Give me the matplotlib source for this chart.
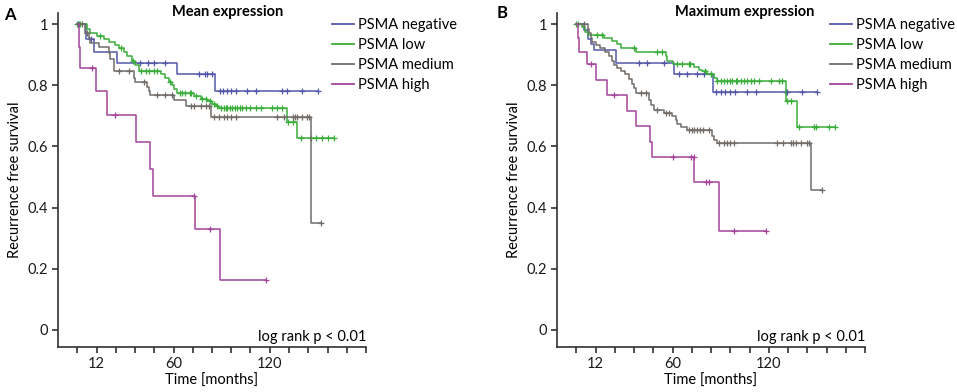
import numpy as np
import matplotlib
matplotlib.use("Agg")
import matplotlib.pyplot as plt
from matplotlib.lines import Line2D

plt.rcParams['font.family'] = ['Lato', 'DejaVu Sans']

# ---- Panel A: mean expression ----
a_neg_t = [0, 5.6, 10.2, 24.8, 61.9, 85.6]
a_neg_s = [1.0, 0.95, 0.91, 0.872, 0.838, 0.781]
a_neg_c = [0.5, 8.5, 39.4, 44.2, 47.7, 55, 75.6, 79.4, 81, 84.2, 88.9, 91, 93.1,
           95.6, 98.75, 105.6, 111.25, 127.9, 130.6, 139.8, 149.8]

a_low_t = [0, 6, 8, 12.3, 16.5, 20, 23.7, 25.8, 29, 31, 34.2, 36, 38.3, 51.9, 55,
           57.1, 59.2, 60.6, 62.3, 72.7, 76.9, 81, 84.2, 86.3, 88.3, 130.5, 136.9]
a_low_s = [1.0, 0.985, 0.97, 0.96, 0.95, 0.94, 0.93, 0.92, 0.91, 0.895, 0.88, 0.865,
           0.847, 0.835, 0.822, 0.81, 0.80, 0.788, 0.774, 0.765, 0.756, 0.748, 0.74,
           0.731, 0.725, 0.678, 0.626]
a_low_c = [0, 1, 2, 14, 27, 35, 40, 43, 45, 48, 50, 58, 64, 65, 67, 70, 71, 74, 78,
           80, 83, 85, 87.3, 89.4, 91.5, 92.5, 93.5, 95.2, 96.7, 98.1, 99.8, 101.5,
           102.9, 105, 108, 111.25, 114.4, 121.7, 124.8, 127.9, 131.5, 134.2, 139.4,
           145.6, 148.75, 152.3, 156.4, 160.2]

a_med_t = [0, 5, 7.1, 8.1, 13.3, 19.6, 20.6, 22.7, 35.2, 36.25, 43.5, 44.6, 45.6,
           60.6, 67.5, 83.5, 146]
a_med_s = [1.0, 0.97, 0.955, 0.938, 0.925, 0.905, 0.885, 0.846, 0.825, 0.811, 0.795,
           0.78, 0.768, 0.752, 0.733, 0.697, 0.349]
a_med_c = [3, 6, 25.8, 32.1, 41.5, 49.8, 55, 59.2, 70.6, 72.7, 76.9, 80, 82.1, 85.2,
           88.3, 91.5, 93.5, 95.6, 98.75, 124.8, 129, 134.2, 135.6, 136.9, 140.4,
           143.1, 144.6, 151.9]

a_high_t = [0, 1.25, 1.9, 11.9, 18.5, 36.9, 45.4, 47.3, 73.1, 88.75]
a_high_s = [1.0, 0.926, 0.857, 0.78, 0.703, 0.613, 0.525, 0.438, 0.329, 0.164]
a_high_c = [9.2, 23.75, 72.8, 82.6, 117.5]

# ---- Panel B: maximum expression ----
b_neg_t = [0, 4.7, 7.2, 9, 10.9, 24.5, 60.8, 85.4]
b_neg_s = [1.0, 0.98, 0.952, 0.935, 0.915, 0.872, 0.838, 0.779]
b_neg_c = [39, 44.2, 54.6, 64, 69.2, 75.4, 79.6, 83.8, 86.9, 90, 92.7, 95.8, 98.9,
           106.7, 111.9, 130.6, 131.6, 141, 149.9]

b_low_t = [0, 3.7, 5.7, 7.2, 17.6, 22.4, 25.5, 27.6, 37, 55.7, 56.7, 60.5, 73.4,
           76.5, 78.6, 81.7, 85.8, 87.9, 130.6, 137.5]
b_low_s = [1.0, 0.99, 0.975, 0.964, 0.955, 0.945, 0.935, 0.923, 0.91, 0.895, 0.88,
           0.869, 0.86, 0.85, 0.845, 0.835, 0.822, 0.815, 0.749, 0.664]
b_low_c = [0, 1, 13, 16.1, 35.9, 50.5, 53.6, 63, 66.1, 70.2, 71, 80, 84, 88, 90,
           92.1, 93.8, 95.8, 97.4, 99.4, 100.4, 102.5, 104.6, 106.7, 108.8, 110.8,
           114, 121.3, 126.5, 128.5, 131.5, 133.7, 138.9, 147.9, 149.3, 157.6, 161.2]

b_med_t = [0, 7.2, 7.8, 8.9, 9.9, 12, 15.1, 18.2, 20.3, 22.4, 23.4, 25.5, 27.6, 30.7,
           32.8, 34.9, 35.9, 37, 45.3, 46.3, 48.4, 54.6, 59.8, 61.9, 62.9, 65, 69.2,
           84.8, 85.8, 87.9, 146.6]
b_med_s = [1.0, 0.985, 0.97, 0.955, 0.94, 0.93, 0.92, 0.91, 0.896, 0.88, 0.865, 0.855,
           0.845, 0.835, 0.82, 0.805, 0.79, 0.775, 0.75, 0.735, 0.72, 0.71, 0.70,
           0.685, 0.672, 0.662, 0.653, 0.635, 0.622, 0.61, 0.457]
b_med_c = [4.7, 40.1, 43.2, 50.5, 55.7, 57.7, 70.2, 72.3, 73.3, 75.5, 77.1, 79.2,
           82.7, 89, 92.1, 94.2, 95.8, 98.3, 125, 129.1, 133.7, 135.4, 136.8, 140.4,
           144.1, 145.4, 153.5]

b_high_t = [0, 1, 2, 6.8, 12, 19.3, 31.5, 37.3, 46, 47.5, 73.5, 89]
b_high_s = [1.0, 0.955, 0.91, 0.87, 0.816, 0.767, 0.717, 0.666, 0.613, 0.564, 0.482, 0.322]
b_high_c = [8.9, 23.4, 60.6, 71.4, 73.2, 80.6, 82.7, 98.5, 118.1]

labels = ['PSMA negative', 'PSMA low', 'PSMA medium', 'PSMA high']
colors = ['#5458a8', '#3aad3a', '#726c68', '#a2449b']
ink = '#35302d'


def km(ax, t, s, c, color):
    t = np.asarray(t, float)
    s = np.asarray(s, float)
    c = np.asarray(c, float)
    end = max(t.max(), c.max())
    ax.step(np.append(t, end), np.append(s, s[-1]), where='post', color=color, lw=1.1)
    idx = np.searchsorted(t, c, side='right') - 1
    ax.plot(c, s[idx], ls='none', marker='+', ms=4.5, mew=0.9, color=color)


def style(ax):
    ax.set_xlim(-12, 180)
    ax.set_ylim(-0.056, 1.036)
    for sp in ['top', 'right']:
        ax.spines[sp].set_visible(False)
    for sp in ['left', 'bottom']:
        ax.spines[sp].set_color(ink)
        ax.spines[sp].set_linewidth(1.2)
    ax.set_xticks(np.arange(0, 181, 12))
    ax.set_xticklabels(['12' if v == 12 else '60' if v == 60 else '120' if v == 120 else ''
                        for v in range(0, 181, 12)])
    ax.set_yticks([0, 0.2, 0.4, 0.6, 0.8, 1])
    ax.set_yticklabels(['0', '0.2', '0.4', '0.6', '0.8', '1'])
    ax.tick_params(colors=ink, width=1.2, length=4, labelsize=10.5, labelcolor='#1a1a1a')
    ax.tick_params(axis='y', pad=3)
    ax.tick_params(axis='x', pad=3)
    ax.set_xlabel('Time [months]', fontsize=10.5, labelpad=2)
    ax.set_ylabel('Recurrence free survival', fontsize=10.5, labelpad=4)
    ax.text(180, -0.045, 'log rank p < 0.01', ha='right', va='bottom', fontsize=10.5)


W, H = 957, 392
fig = plt.figure(figsize=(W / 100, H / 100), dpi=100)
axA = fig.add_axes([58 / W, 45 / H, 308 / W, 334 / H])
axB = fig.add_axes([557 / W, 45 / H, 308 / W, 334 / H])

panelA = [(a_neg_t, a_neg_s, a_neg_c), (a_low_t, a_low_s, a_low_c),
          (a_med_t, a_med_s, a_med_c), (a_high_t, a_high_s, a_high_c)]
panelB = [(b_neg_t, b_neg_s, b_neg_c), (b_low_t, b_low_s, b_low_c),
          (b_med_t, b_med_s, b_med_c), (b_high_t, b_high_s, b_high_c)]

for ax, panel, lx in [(axA, panelA, 332), (axB, panelB, 830)]:
    for (t, s, c), col in zip(panel, colors):
        km(ax, t, s, c, col)
    style(ax)
    handles = [Line2D([], [], color=col, lw=1.3) for col in colors]
    ax.legend(handles, labels, loc='upper left', bbox_to_anchor=(lx / W, 1 - 18 / H),
              bbox_transform=fig.transFigure, frameon=False, fontsize=10.5,
              handlelength=1.5, handletextpad=0.3, labelspacing=0.42,
              borderpad=0, borderaxespad=0)

fig.text(228 / W, 1 - 12 / H, 'Mean expression', ha='center', va='center',
         fontsize=10.5, fontweight='bold')
fig.text(745 / W, 1 - 12 / H, 'Maximum expression', ha='center', va='center',
         fontsize=10.5, fontweight='bold')
fig.text(4 / W, 1 - 15 / H, 'A', ha='left', va='center', fontsize=12, fontweight='bold')
fig.text(497 / W, 1 - 13 / H, 'B', ha='left', va='center', fontsize=12, fontweight='bold')

fig.savefig('out.png', dpi=100)
